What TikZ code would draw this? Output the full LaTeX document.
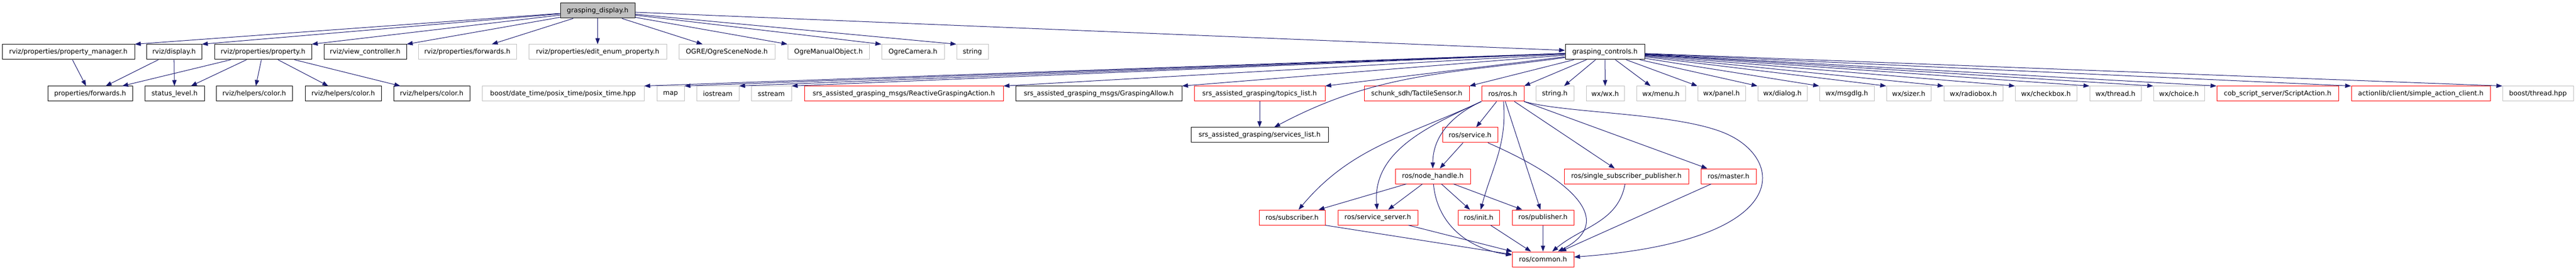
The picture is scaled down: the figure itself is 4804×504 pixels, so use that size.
\documentclass[tikz,border=0pt]{standalone}
\usepackage{fontspec}
\setmainfont{DejaVu Sans}
\usetikzlibrary{arrows.meta}
\definecolor{lnk}{HTML}{191970}
\definecolor{gry}{HTML}{BFBFBF}
\newcommand{\incnode}[6]{
\node[#2,minimum width={(#4-#3)*1bp}] (#1) at ({(#3+#4)/2},#5) {#6};
}

\begin{document}
\begin{tikzpicture}[x=1bp,y=1bp,>={Triangle[length=11bp,width=8bp]},
incbox/.style={rectangle,minimum height=28bp,inner sep=0pt,line width=1bp,fill=white,font=\fontsize{12.5}{15}\selectfont},
doc/.style={incbox,draw=black},
ext/.style={incbox,draw=gry},
trunc/.style={incbox,draw=red},
dep/.style={->,lnk,line width=1bp}]
\useasboundingbox (0,0) rectangle (4804,-504);

\incnode{gd}{doc,fill=gry}{1045}{1184}{-20}{grasping\_display.h}

\incnode{pm}{doc}{4}{251}{-97}{rviz/properties/property\_manager.h}
\incnode{dsp}{doc}{273}{376}{-97}{rviz/display.h}
\incnode{prp}{doc}{400}{581}{-97}{rviz/properties/property.h}
\incnode{vc}{doc}{604}{758}{-97}{rviz/view\_controller.h}
\incnode{rfw}{ext}{780}{963}{-97}{rviz/properties/forwards.h}
\incnode{eep}{ext}{986}{1243}{-97}{rviz/properties/edit\_enum\_property.h}
\incnode{osn}{ext}{1266}{1445}{-97}{OGRE/OgreSceneNode.h}
\incnode{omo}{ext}{1469}{1621}{-97}{OgreManualObject.h}
\incnode{ocam}{ext}{1644}{1761}{-97}{OgreCamera.h}
\incnode{str}{ext}{1784}{1843}{-97}{string}
\incnode{gc}{doc}{2919}{3067}{-97}{grasping\_controls.h}

\incnode{pfw}{doc}{89}{247}{-175}{properties/forwards.h}
\incnode{stl}{doc}{270}{381}{-175}{status\_level.h}
\incnode{colA}{doc}{403}{545}{-175}{rviz/helpers/color.h}
\incnode{colB}{doc}{569}{711}{-175}{rviz/helpers/color.h}
\incnode{colC}{doc}{734}{876}{-175}{rviz/helpers/color.h}
\incnode{ptime}{ext}{899}{1201}{-175}{boost/date\_time/posix\_time/posix\_time.hpp}
\incnode{map}{ext}{1225}{1276}{-175}{map}
\incnode{ios}{ext}{1299}{1378}{-175}{iostream}
\incnode{sst}{ext}{1401}{1476}{-175}{sstream}
\incnode{rga}{trunc}{1500}{1871}{-175}{srs\_assisted\_grasping\_msgs/ReactiveGraspingAction.h}
\incnode{gal}{doc}{1894}{2204}{-175}{srs\_assisted\_grasping\_msgs/GraspingAllow.h}
\incnode{tl}{trunc}{2227}{2471}{-175}{srs\_assisted\_grasping/topics\_list.h}
\incnode{tac}{trunc}{2544}{2740}{-175}{schunk\_sdh/TactileSensor.h}
\incnode{ros}{trunc}{2763}{2842}{-175}{ros/ros.h}
\incnode{strh}{ext}{2864}{2935}{-175}{string.h}
\incnode{wx}{ext}{2958}{3029}{-175}{wx/wx.h}
\incnode{menu}{ext}{3052}{3143}{-175}{wx/menu.h}
\incnode{panel}{ext}{3166}{3255}{-175}{wx/panel.h}
\incnode{dialog}{ext}{3278}{3370}{-175}{wx/dialog.h}
\incnode{msgdlg}{ext}{3393}{3495}{-175}{wx/msgdlg.h}
\incnode{sizer}{ext}{3518}{3601}{-175}{wx/sizer.h}
\incnode{radio}{ext}{3625}{3735}{-175}{wx/radiobox.h}
\incnode{check}{ext}{3758}{3873}{-175}{wx/checkbox.h}
\incnode{thread}{ext}{3897}{3993}{-175}{wx/thread.h}
\incnode{choice}{ext}{4016}{4111}{-175}{wx/choice.h}
\incnode{script}{trunc}{4134}{4361}{-175}{cob\_script\_server/ScriptAction.h}
\incnode{aclient}{trunc}{4385}{4644}{-175}{actionlib/client/simple\_action\_client.h}
\incnode{bthread}{ext}{4667}{4799}{-175}{boost/thread.hpp}

\incnode{sl}{doc}{2221}{2477}{-252}{srs\_assisted\_grasping/services\_list.h}
\incnode{srv}{trunc}{2690}{2793}{-252}{ros/service.h}

\incnode{nh}{trunc}{2602}{2742}{-329}{ros/node\_handle.h}
\incnode{ssp}{trunc}{2917}{3149}{-329}{ros/single\_subscriber\_publisher.h}
\incnode{mst}{trunc}{3172}{3275}{-329}{ros/master.h}

\incnode{sub}{trunc}{2348}{2471}{-406}{ros/subscriber.h}
\incnode{ssv}{trunc}{2495}{2644}{-406}{ros/service\_server.h}
\incnode{init}{trunc}{2719}{2796}{-406}{ros/init.h}
\incnode{pub}{trunc}{2820}{2935}{-406}{ros/publisher.h}

\incnode{cm}{trunc}{2820}{2935}{-484}{ros/common.h}

\draw[dep] (gd) -- (pm.north east);
\draw[dep] (gd) -- (dsp.north east);
\draw[dep] (gd) -- (prp.north east);
\draw[dep] (gd) -- (vc.north east);
\draw[dep] (gd) -- (rfw);
\draw[dep] (gd) -- (eep);
\draw[dep] (gd) -- (osn);
\draw[dep] (gd) -- (omo.north west);
\draw[dep] (gd) -- (ocam.north west);
\draw[dep] (gd) -- (str.north west);
\draw[dep] (gd) -- (gc);

\draw[dep] (pm) -- (pfw);
\draw[dep] (dsp) -- (pfw);
\draw[dep] (dsp) -- (stl);
\draw[dep] (prp) -- (pfw);
\draw[dep] (prp) -- (stl);
\draw[dep] (prp) -- (colA);
\draw[dep] (prp) -- (colB);
\draw[dep] (prp) -- (colC);

\draw[dep] (gc) -- (ptime.north east);
\draw[dep] (gc) -- (map.north east);
\draw[dep] (gc) -- (ios.north east);
\draw[dep] (gc) -- (sst.north east);
\draw[dep] (gc) -- (rga.north east);
\draw[dep] (gc) -- (gal.north east);
\draw[dep] (gc) -- (tl.north east);
\draw[dep] (gc) to[out=188,in=28] (sl);
\draw[dep] (gc) -- (tac.north east);
\draw[dep] (gc) -- (ros.north east);
\draw[dep] (gc) -- (strh);
\draw[dep] (gc) -- (wx);
\draw[dep] (gc) -- (menu);
\draw[dep] (gc) -- (panel.north west);
\draw[dep] (gc) -- (dialog.north west);
\draw[dep] (gc) -- (msgdlg.north west);
\draw[dep] (gc) -- (sizer.north west);
\draw[dep] (gc) -- (radio.north west);
\draw[dep] (gc) -- (check.north west);
\draw[dep] (gc) -- (thread.north west);
\draw[dep] (gc) -- (choice.north west);
\draw[dep] (gc) -- (script.north west);
\draw[dep] (gc) -- (aclient.north west);
\draw[dep] (gc) -- (bthread.north west);

\draw[dep] (tl) -- (sl);

\draw[dep] (ros) -- (srv);
\draw[dep] (ros.south west) to[out=205,in=90] (nh);
\draw[dep] (ros.south west) to[out=205,in=95] (ssv);
\draw[dep] (ros.south west) to[out=205,in=50] (sub);
\draw[dep] (ros) to[out=-85,in=75] (init);
\draw[dep] (ros) -- (pub);
\draw[dep] (ros) -- (ssp);
\draw[dep] (ros) -- (mst);
\draw[dep] (ros.south east) .. controls (2920,-212) and (3130,-210) .. (3220,-250) .. controls (3330,-299) and (3345,-450) .. (cm);

\draw[dep] (srv) -- (nh);
\draw[dep] (srv) .. controls (2920,-330) and (3020,-410) .. (cm);

\draw[dep] (nh) -- (sub);
\draw[dep] (nh) -- (ssv);
\draw[dep] (nh) -- (init);
\draw[dep] (nh) -- (pub);
\draw[dep] (nh) .. controls (2680,-420) and (2740,-465) .. (cm);

\draw[dep] (sub.south east) -- (cm);
\draw[dep] (ssv) -- (cm);
\draw[dep] (init) -- (cm);
\draw[dep] (pub) -- (cm);
\draw[dep] (ssp) to[out=-100,in=40] (cm);
\draw[dep] (mst) -- (cm);
\end{tikzpicture}
\end{document}
